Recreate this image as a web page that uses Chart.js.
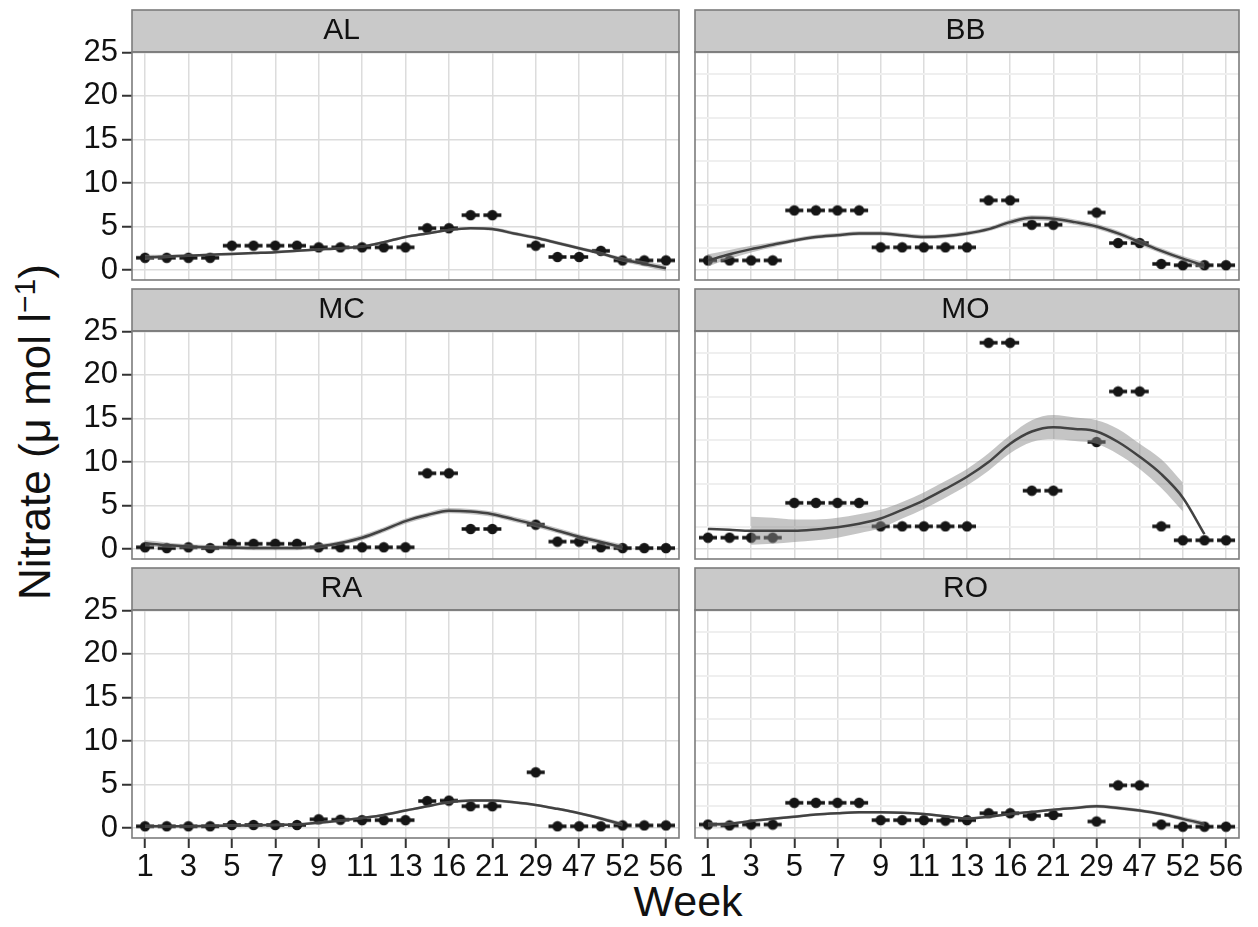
<!DOCTYPE html>
<html>
<head>
<meta charset="utf-8">
<script src="https://cdn.jsdelivr.net/npm/chart.js@4.4.1/dist/chart.umd.min.js"></script>
<style>
  html, body { margin: 0; padding: 0; background: #fff; }
  body { width: 1258px; height: 927px; position: relative; overflow: hidden; font-family: "Liberation Sans", Arial, sans-serif; color: #111; }
  canvas { position: absolute; }
  #ytitle { position: absolute; left: 34px; top: 432px; transform: translate(-50%, -50%) rotate(-90deg); font-size: 44px; white-space: nowrap; }
  #ytitle sup { font-size: 30px; }
  #xtitle { position: absolute; left: 688px; top: 901px; transform: translate(-50%, -50%); font-size: 43px; }
</style>
</head>
<body>
<div id="ytitle">Nitrate (μ mol l<sup>−1</sup>)</div>
<div id="xtitle">Week</div>
<script>
// weeks on the x axis (every other one is labelled)
const weeks = ['1','2','3','4','5','6','7','8','9','10','11','12','13','14','16','18','21','25','29','38','47','50','52','54','56'];
const yTicks = [0, 2.5, 5, 7.5, 10, 12.5, 15, 17.5, 20, 22.5, 25];
const sites = ['AL', 'BB', 'MC', 'MO', 'RA', 'RO'];

// measured nitrate
const alObs = [1.4,1.4,1.4,1.4, 2.8,2.8,2.8,2.8, 2.6,2.6,2.6,2.6,2.6, 4.8,4.8, 6.3,6.3, null, 2.8, 1.5,1.5, 2.2, 1.1,1.1,1.1];
const bbObs = [1.1,1.1,1.1,1.1, 6.85,6.85,6.85,6.85, 2.6,2.6,2.6,2.6,2.6, 8.0,8.0, 5.2,5.2, null, 6.6, 3.1,3.1, 0.7, 0.55,0.55,0.55];
const mcObs = [0.2,0.1,0.2,0.1, 0.6,0.6,0.6,0.6, 0.2,0.2,0.2,0.2,0.2, 8.7,8.7, 2.3,2.3, null, 2.8, 0.85,0.85, 0.2, 0.1,0.1,0.1];
const moObs = [1.3,1.3,1.3,1.3, 5.3,5.3,5.3,5.3, 2.6,2.6,2.6,2.6,2.6, 23.7,23.7, 6.7,6.7, null, 12.3, 18.1,18.1, 2.6, 1.0,1.0,1.0];
const raObs = [0.2,0.2,0.2,0.2, 0.35,0.35,0.35,0.35, 1.0,0.95,0.9,0.9,0.9, 3.1,3.15, 2.5,2.5, null, 6.4, 0.2,0.2,0.2, 0.3,0.3,0.3];
const roObs = [0.4,0.3,0.4,0.4, 2.9,2.9,2.9,2.9, 0.9,0.9,0.9,0.85,0.9, 1.7,1.7, 1.4,1.5, null, 0.75, 4.9,4.9, 0.4, 0.15,0.15,0.15];

// loess fit
const alFit = [1.45,1.55,1.65,1.75,1.85,1.95,2.05,2.2,2.35,2.5,2.7,3.2,3.8,4.2,4.6,4.8,4.7,4.2,3.7,3.1,2.5,1.9,1.2,0.7,0.2];
const bbFit = [1.1,1.8,2.4,2.9,3.4,3.8,4.0,4.2,4.2,4.0,3.8,3.9,4.2,4.7,5.5,6.0,5.9,5.5,5.0,4.2,3.2,2.2,1.3,0.5,null];
const mcFit = [0.65,0.45,0.3,0.2,0.15,0.1,0.1,0.1,0.3,0.7,1.3,2.2,3.2,3.9,4.4,4.3,4.0,3.4,2.8,2.1,1.4,0.8,0.2,null,null];
const moFit = [2.3,2.2,2.1,2.1,2.1,2.25,2.5,2.9,3.5,4.5,5.6,6.9,8.3,10.0,12.1,13.5,14.0,13.8,13.5,12.3,10.6,8.6,5.9,1.7,null];
const raFit = [0.2,0.2,0.2,0.25,0.3,0.3,0.35,0.4,0.6,0.85,1.15,1.5,2.0,2.5,2.95,3.15,3.15,2.95,2.65,2.2,1.7,1.1,0.4,null,null];
const roFit = [0.4,0.5,0.8,1.05,1.3,1.55,1.7,1.8,1.8,1.75,1.6,1.35,1.1,1.3,1.6,1.85,2.1,2.3,2.5,2.3,2.0,1.6,1.05,0.45,null];

// confidence band, upper and lower edge
const alHi = [1.75,1.75,1.8,1.9,2.0,2.1,2.2,2.35,2.5,2.65,2.85,3.35,3.95,4.35,4.75,4.95,4.9,4.4,3.9,3.3,2.7,2.1,1.45,1.0,0.55];
const alLo = [1.15,1.35,1.5,1.6,1.7,1.8,1.9,2.05,2.2,2.35,2.55,3.05,3.65,4.05,4.45,4.65,4.5,4.0,3.5,2.9,2.3,1.7,0.95,0.4,-0.15];
const bbHi = [1.8,2.3,2.8,3.2,3.65,4.05,4.25,4.45,4.45,4.25,4.05,4.15,4.45,4.95,5.8,6.3,6.2,5.8,5.3,4.5,3.5,2.5,1.6,0.9,null];
const bbLo = [0.4,1.3,2.0,2.6,3.15,3.55,3.75,3.95,3.95,3.75,3.55,3.65,3.95,4.45,5.2,5.7,5.6,5.2,4.7,3.9,2.9,1.9,1.0,0.1,null];
const mcHi = [1.0,0.75,0.55,0.45,0.4,0.35,0.35,0.35,0.55,0.95,1.6,2.5,3.5,4.2,4.7,4.6,4.3,3.7,3.1,2.4,1.7,1.1,0.55,null,null];
const mcLo = [0.3,0.15,0.05,-0.05,-0.1,-0.15,-0.15,-0.15,0.05,0.45,1.0,1.9,2.9,3.6,4.1,4.0,3.7,3.1,2.5,1.8,1.1,0.5,-0.15,null,null];
const moHi = [null,null,3.7,3.6,3.4,3.4,3.6,4.0,4.5,5.4,6.5,7.8,9.2,11.0,13.1,14.8,15.4,15.1,14.8,13.8,12.1,10.3,7.6,null,null];
const moLo = [null,null,0.5,0.6,0.8,1.0,1.3,1.8,2.4,3.5,4.6,5.9,7.3,9.0,11.0,12.3,12.6,12.4,12.1,10.9,9.2,7.0,4.3,null,null];
const raHi = [0.4,0.35,0.35,0.4,0.45,0.45,0.5,0.55,0.75,1.0,1.3,1.65,2.15,2.65,3.1,3.3,3.3,3.1,2.8,2.35,1.85,1.3,0.65,null,null];
const raLo = [0.0,0.05,0.05,0.1,0.15,0.15,0.2,0.25,0.45,0.7,1.0,1.35,1.85,2.35,2.8,3.0,3.0,2.8,2.5,2.05,1.55,0.9,0.15,null,null];
const roHi = [0.65,0.7,0.95,1.2,1.45,1.7,1.85,1.95,1.95,1.9,1.75,1.5,1.25,1.45,1.75,2.0,2.25,2.45,2.7,2.5,2.2,1.8,1.3,0.75,null];
const roLo = [0.15,0.3,0.65,0.9,1.15,1.4,1.55,1.65,1.65,1.6,1.45,1.2,0.95,1.15,1.45,1.7,1.95,2.15,2.3,2.1,1.8,1.4,0.8,0.15,null];

const obs = [alObs, bbObs, mcObs, moObs, raObs, roObs];
const fits = [alFit, bbFit, mcFit, moFit, raFit, roFit];
const his = [alHi, bbHi, mcHi, moHi, raHi, roHi];
const los = [alLo, bbLo, mcLo, moLo, raLo, roLo];

Chart.defaults.font.family = '"Liberation Sans", Arial, sans-serif';
Chart.defaults.color = '#111';

const stripH = 42;
const axisH = 50;
const clear = 'rgba(0,0,0,0)';

// point with a short horizontal bar, as in the original
const dot = document.createElement('canvas');
dot.width = 22; dot.height = 12;
(function () {
    const g = dot.getContext('2d');
    g.strokeStyle = '#151515';
    g.lineWidth = 3.5;
    g.beginPath(); g.moveTo(2, 6); g.lineTo(20, 6); g.stroke();
    g.fillStyle = '#151515';
    g.beginPath(); g.arc(11, 6, 5.2, 0, Math.PI * 2); g.fill();
})();

// grey strip + panel border (ggplot facet look)
const facetFrame = {
    id: 'facetFrame',
    beforeDraw(chart) {
        const a = chart.chartArea, ctx = chart.ctx;
        ctx.save();
        ctx.fillStyle = '#c9c9c9';
        ctx.fillRect(a.left, a.top - stripH, a.right - a.left, stripH);
        ctx.restore();
    },
    afterDraw(chart) {
        const a = chart.chartArea, ctx = chart.ctx;
        ctx.save();
        ctx.strokeStyle = '#7c7c7c';
        ctx.lineWidth = 1.6;
        ctx.strokeRect(a.left, a.top - stripH, a.right - a.left, stripH);
        ctx.strokeRect(a.left, a.top, a.right - a.left, a.bottom - a.top);
        ctx.restore();
    }
};

const xy = arr => arr.map((v, i) => ({ x: i, y: v }));
const noPad = s => { s.paddingTop = 0; s.paddingBottom = 0; s.paddingLeft = 0; s.paddingRight = 0; };

function makePanel(k) {
    const col = k % 2, row = Math.floor(k / 2);
    const left = col === 0, bottom = row === 2;
    const cv = document.createElement('canvas');
    const w = left ? 686 : 558;
    const h = 2 + stripH + 228 + axisH;
    cv.width = w; cv.height = h;
    cv.style.left = (left ? 0 : 688) + 'px';
    cv.style.top = [8, 287, 566][row] + 'px';
    document.body.appendChild(cv);

    new Chart(cv.getContext('2d'), {
        type: 'line',
        data: {
            datasets: [
                { data: xy(fits[k]), borderColor: '#424242', borderWidth: 2.5, pointRadius: 0,
                  cubicInterpolationMode: 'monotone', order: 0 },
                { data: xy(his[k]), borderWidth: 0, pointRadius: 0, fill: '+1',
                  backgroundColor: 'rgba(140,140,140,0.5)', cubicInterpolationMode: 'monotone', order: 1 },
                { data: xy(los[k]), borderWidth: 0, pointRadius: 0, fill: false,
                  cubicInterpolationMode: 'monotone', order: 1 },
                { data: xy(obs[k]), showLine: false, pointStyle: dot, pointRadius: 6, order: 2 }
            ]
        },
        options: {
            responsive: false,
            animation: false,
            layout: { padding: { top: 2, bottom: 0, left: 0, right: 3 } },
            plugins: {
                legend: { display: false },
                tooltip: { enabled: false },
                title: {
                    display: true, text: sites[k], color: '#111',
                    font: { size: 30, weight: 'normal', lineHeight: 1 },
                    padding: { top: 6, bottom: 6 }
                }
            },
            scales: {
                x: {
                    type: 'linear', min: -0.6, max: weeks.length - 0.4,
                    afterBuildTicks: s => { s.ticks = weeks.map((wk, i) => ({ value: i })); },
                    afterFit: s => { s.height = axisH; noPad(s); },
                    ticks: {
                        display: bottom, autoSkip: false, maxRotation: 0, minRotation: 0,
                        font: { size: 31 }, padding: 1, color: '#111',
                        callback: v => (v % 2 === 0 ? weeks[v] : '')
                    },
                    grid: {
                        color: c => (c.tick && c.tick.value % 2 === 0 ? '#dcdcdc' : clear),
                        lineWidth: 1.5,
                        drawTicks: bottom, tickLength: 10, tickWidth: 2,
                        tickColor: c => (c.tick && c.tick.value % 2 === 0 ? '#333' : clear)
                    },
                    border: { display: false }
                },
                y: {
                    min: -1.15, max: 25.05,
                    afterBuildTicks: s => { s.ticks = yTicks.map(v => ({ value: v })); },
                    afterFit: s => { s.width = left ? 132 : 3; noPad(s); },
                    ticks: {
                        display: left, font: { size: 31 }, padding: 4, color: '#111',
                        callback: v => (v % 5 === 0 ? String(v) : '')
                    },
                    grid: {
                        color: c => (c.tick && c.tick.value % 5 === 0 ? '#dcdcdc' : '#efefef'),
                        lineWidth: c => (c.tick && c.tick.value % 5 === 0 ? 1.5 : 2),
                        drawTicks: left, tickLength: 10, tickWidth: 2,
                        tickColor: c => (c.tick && c.tick.value % 5 === 0 ? '#333' : clear)
                    },
                    border: { display: false }
                }
            }
        },
        plugins: [facetFrame]
    });
}

for (let k = 0; k < sites.length; k++) makePanel(k);
</script>
</body>
</html>
